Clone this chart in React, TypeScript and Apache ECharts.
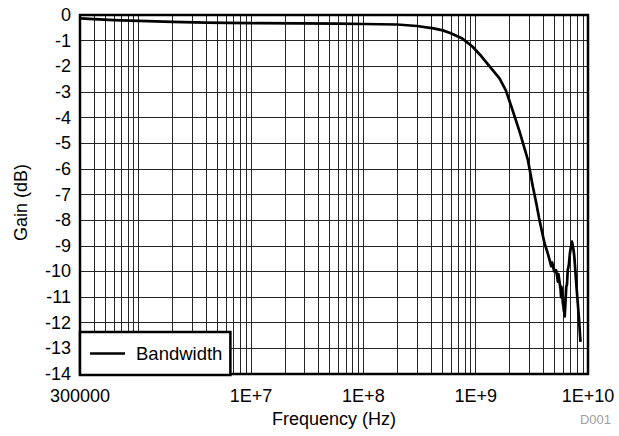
import React, { useEffect, useRef } from "react";
import * as echarts from "echarts";

const freqHz = [
  3e5, 4e5, 6e5, 1e6, 2e6, 4e6, 1e7, 2.75e7, 6e7, 1e8, 2e8, 3e8, 4.2e8, 5.1e8, 6e8,
  7.6e8, 9.3e8, 1.12e9, 1.33e9, 1.63e9, 1.86e9, 2.07e9, 2.46e9, 2.92e9, 3.23e9,
  3.45e9, 3.7e9, 4.1e9, 4.35e9, 4.55e9, 4.7e9, 4.8e9, 5.0e9, 5.2e9, 5.4e9, 5.55e9,
  5.45e9, 5.7e9, 5.76e9, 5.9e9, 5.8e9, 6.0e9, 5.95e9, 6.1e9, 6.05e9, 6.2e9, 6.3e9,
  6.25e9, 6.4e9, 6.5e9, 6.6e9, 6.75e9, 6.9e9, 7.05e9, 7.2e9, 7.4e9, 7.55e9, 7.9e9,
  8.3e9, 8.57e9,
];
const gainDb = [
  -0.13, -0.16, -0.2, -0.23, -0.27, -0.3, -0.32, -0.33, -0.34, -0.35, -0.37, -0.43,
  -0.52, -0.6, -0.71, -0.92, -1.22, -1.6, -2.0, -2.47, -2.95, -3.55, -4.55, -5.66,
  -6.7, -7.3, -8.0, -8.9, -9.25, -9.55, -9.8, -9.65, -10.0, -9.95, -10.4, -10.35,
  -10.1, -10.7, -11.0, -10.9, -10.6, -11.3, -11.0, -11.55, -11.2, -11.75, -11.2,
  -11.5, -10.6, -10.5, -9.95, -9.75, -9.3, -9.05, -8.84, -9.1, -9.4, -10.6, -11.8,
  -12.75,
];

const xMin = 3e5;
const xMax = 1e10;
const yMin = -14;
const yMax = 0;
const xLabelDecades = [7, 8, 9, 10];
const gridDecades = [5, 6, 7, 8, 9];
const gridMultipliers = [1, 2, 3, 4, 5, 6, 7, 8, 9];
const seriesName = "Bandwidth";

const FONT = '"Liberation Sans", Arial, sans-serif';
const GRID_COLOR = "#262626";

export default function App() {
  const ref = useRef<HTMLDivElement>(null);

  useEffect(() => {
    document.body.style.margin = "0";
    if (!ref.current) return;
    const chart = echarts.init(ref.current, undefined, { renderer: "svg" });

    const gridValues: number[] = [];
    gridDecades.forEach((d) => {
      gridMultipliers.forEach((m) => {
        const v = m * Math.pow(10, d);
        if (v > xMin && v < xMax) gridValues.push(v);
      });
    });

    const data = freqHz.map((f, i) => [f, gainDb[i]]);

    chart.setOption({
      animation: false,
      backgroundColor: "#fff",
      textStyle: { fontFamily: FONT },
      grid: {
        left: 80,
        right: 31,
        top: 15,
        bottom: 62,
        show: true,
        borderColor: "#000",
        borderWidth: 2.5,
        backgroundColor: "transparent",
        z: 10,
      },
      legend: {
        show: true,
        data: [{ name: seriesName, icon: "rect" }],
        left: 80,
        top: 332,
        padding: [12, 8, 12, 10],
        itemWidth: 35,
        itemHeight: 2.5,
        itemGap: 5,
        backgroundColor: "#fff",
        borderColor: "#000",
        borderWidth: 2.5,
        textStyle: {
          fontSize: 18.5,
          color: "#000",
          fontFamily: FONT,
          padding: [0, 0, 0, 6],
        },
        selectedMode: false,
        z: 20,
      },
      xAxis: {
        type: "log",
        logBase: 10,
        min: xMin,
        max: xMax,
        name: "Frequency (Hz)",
        nameLocation: "middle",
        nameGap: 32,
        nameTextStyle: { fontSize: 18, color: "#000", fontFamily: FONT },
        axisLine: { show: false },
        axisTick: { show: false },
        splitLine: { show: false },
        axisLabel: {
          interval: 0,
          showMinLabel: true,
          showMaxLabel: true,
          fontSize: 18,
          color: "#000",
          margin: 13,
          fontFamily: FONT,
          formatter: (v: number) => {
            if (Math.abs(v - xMin) / xMin < 1e-6) return "300000";
            const d = Math.round(Math.log10(v));
            return xLabelDecades.indexOf(d) >= 0 ? "1E+" + d : "";
          },
        },
      },
      yAxis: {
        type: "value",
        min: yMin,
        max: yMax,
        interval: 1,
        name: "Gain (dB)",
        nameLocation: "middle",
        nameGap: 50,
        nameTextStyle: {
          fontSize: 18,
          color: "#000",
          fontFamily: FONT,
          padding: [0, 16, 0, 0],
        },
        axisLine: { show: false },
        axisTick: { show: false },
        axisLabel: { fontSize: 18, color: "#000", margin: 9, fontFamily: FONT },
        splitLine: { show: true, lineStyle: { color: GRID_COLOR, width: 1 } },
      },
      series: [
        {
          name: seriesName,
          type: "line",
          data,
          showSymbol: false,
          symbol: "none",
          color: "#000",
          lineStyle: { color: "#000", width: 2.7, join: "round" },
          z: 5,
          markLine: {
            silent: true,
            symbol: "none",
            label: { show: false },
            lineStyle: { color: GRID_COLOR, width: 1, type: "solid" },
            data: gridValues.map((v) => ({ xAxis: v })),
            z: 1,
          },
        },
      ],
      graphic: [
        {
          type: "text",
          right: 8,
          top: 413,
          style: { text: "D001", fill: "#a0a0a0", font: `13px ${FONT}` },
        },
      ],
    });

    return () => chart.dispose();
  }, []);

  return <div ref={ref} style={{ width: 619, height: 436 }} />;
}
